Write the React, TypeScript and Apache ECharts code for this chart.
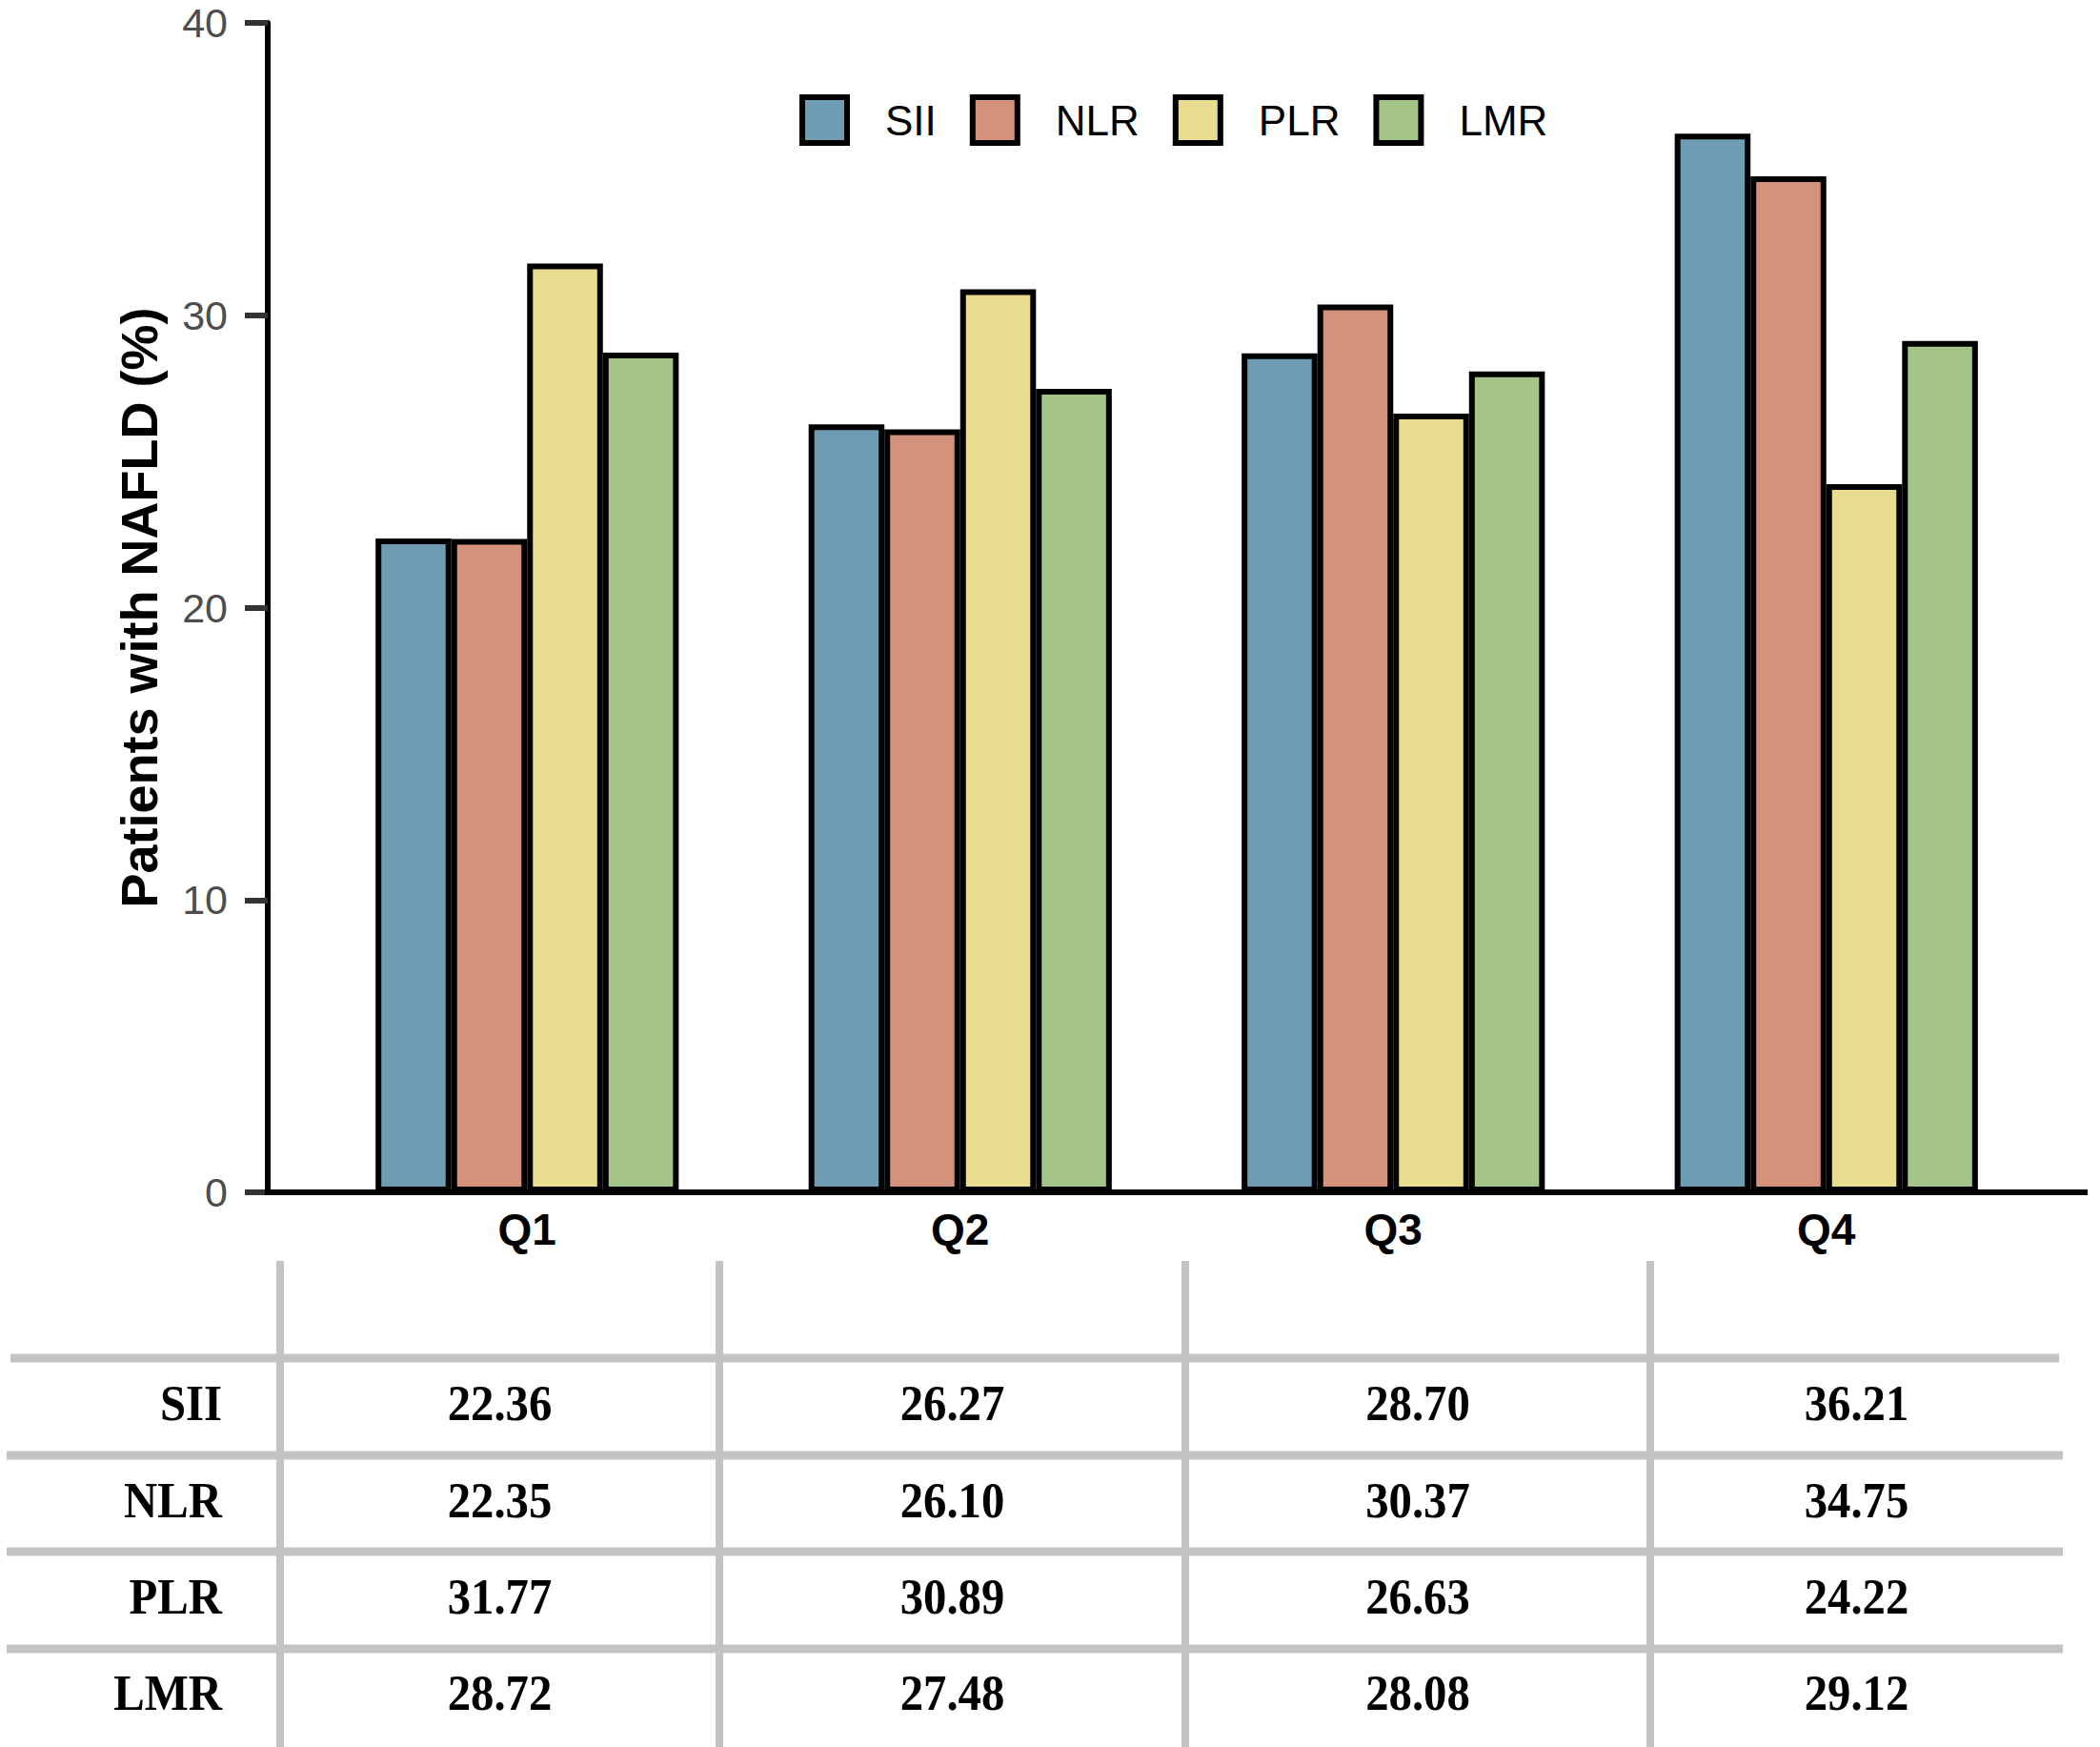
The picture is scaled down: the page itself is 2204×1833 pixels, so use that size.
import React, { useEffect, useRef } from "react";
import * as echarts from "echarts";

const categories = ["Q1", "Q2", "Q3", "Q4"];
const seriesNames = ["SII", "NLR", "PLR", "LMR"];
const siiValues = [22.36, 26.27, 28.7, 36.21];
const nlrValues = [22.35, 26.1, 30.37, 34.75];
const plrValues = [31.77, 30.89, 26.63, 24.22];
const lmrValues = [28.72, 27.48, 28.08, 29.12];
const yTickMin = 0;
const yTickMax = 40;
const yTickStep = 10;

const seriesColors = ["#6e9cb2", "#d4917b", "#e8dd8f", "#a5c487"];

// layout constants (pixels)
const W = 2204;
const H = 1833;
const AXIS_X = 281;
const AXIS_Y = 1251;
const GRID_LEFT = 326;
const GRID_RIGHT = 60;
const GRID_TOP = 24;
const COL_LINES = [294, 755, 1244, 1732];
const TABLE_RIGHT = 2165;
const ROW_LINES = [1425, 1527, 1628, 1730];
const ROW_CENTERS = [1472, 1574, 1675, 1776];
const TABLE_TOP = 1323;

export default function App() {
  const ref = useRef<HTMLDivElement>(null);

  useEffect(() => {
    document.body.style.margin = "0";
    if (!ref.current) return;
    const chart = echarts.init(ref.current, undefined, { renderer: "svg" });
    const allValues = [siiValues, nlrValues, plrValues, lmrValues];

    const colCenters = COL_LINES.map((x, i) =>
      i < COL_LINES.length - 1 ? (x + COL_LINES[i + 1]) / 2 : (x + TABLE_RIGHT) / 2
    );

    const tableFont = {
      fontFamily: "Liberation Serif",
      fontWeight: "bold",
      fontSize: 53,
      fill: "#000",
      verticalAlign: "middle",
    };

    const graphics: any[] = [];
    graphics.push({
      type: "line",
      z: 100,
      shape: { x1: AXIS_X - 3, y1: AXIS_Y, x2: 2191, y2: AXIS_Y },
      style: { stroke: "#000", lineWidth: 6 },
    });
    COL_LINES.forEach((x) => {
      graphics.push({
        type: "line",
        shape: { x1: x, y1: TABLE_TOP, x2: x, y2: H },
        style: { stroke: "#c3c3c3", lineWidth: 8 },
      });
    });
    ROW_LINES.forEach((y, i) => {
      graphics.push({
        type: "line",
        shape: { x1: i === 0 ? 11 : 7, y1: y, x2: i === 0 ? 2161 : TABLE_RIGHT, y2: y },
        style: { stroke: "#c3c3c3", lineWidth: 9 },
      });
    });
    seriesNames.forEach((name, r) => {
      graphics.push({
        type: "text",
        x: 233,
        y: ROW_CENTERS[r],
        scaleX: 0.92,
        style: { ...tableFont, text: name, align: "right" },
      });
      allValues[r].forEach((v, c) => {
        graphics.push({
          type: "text",
          x: colCenters[c],
          y: ROW_CENTERS[r],
          scaleX: 0.92,
          style: { ...tableFont, text: v.toFixed(2), align: "center" },
        });
      });
    });

    chart.setOption({
      animation: false,
      backgroundColor: "#fff",
      color: seriesColors,
      grid: {
        left: GRID_LEFT,
        right: GRID_RIGHT,
        top: GRID_TOP,
        bottom: H - AXIS_Y,
        containLabel: false,
      },
      legend: {
        data: seriesNames,
        left: 839,
        top: 99,
        padding: 0,
        itemWidth: 47,
        itemHeight: 48,
        itemGap: 35,
        icon: "rect",
        itemStyle: { borderColor: "#000", borderWidth: 6 },
        textStyle: {
          fontFamily: "Liberation Sans",
          fontSize: 44,
          color: "#000",
          padding: [0, 0, 0, 35],
        },
      },
      xAxis: {
        type: "category",
        data: categories,
        axisLine: { show: false },
        axisTick: { show: false },
        axisLabel: {
          margin: 16,
          fontFamily: "Liberation Sans",
          fontWeight: "bold",
          fontSize: 46,
          color: "#000",
        },
      },
      yAxis: {
        type: "value",
        min: yTickMin,
        max: yTickMax,
        interval: yTickStep,
        offset: GRID_LEFT - AXIS_X,
        name: "Patients with NAFLD (%)",
        nameLocation: "middle",
        nameGap: 108,
        nameTextStyle: {
          fontFamily: "Liberation Sans",
          fontWeight: "bold",
          fontSize: 54,
          color: "#000",
        },
        splitLine: { show: false },
        axisLine: { show: true, lineStyle: { color: "#000", width: 6 } },
        axisTick: { show: true, length: 24, lineStyle: { color: "#333", width: 6 } },
        axisLabel: {
          margin: 42,
          fontFamily: "Liberation Sans",
          fontSize: 43,
          color: "#4d4d4d",
        },
      },
      series: seriesNames.map((name, i) => ({
        name,
        type: "bar",
        data: allValues[i],
        barGap: "0%",
        barCategoryGap: "30%",
        itemStyle: { color: seriesColors[i], borderColor: "#000", borderWidth: 6 },
      })),
      graphic: graphics,
    });

    return () => chart.dispose();
  }, []);

  return <div ref={ref} style={{ width: W, height: H }} />;
}
